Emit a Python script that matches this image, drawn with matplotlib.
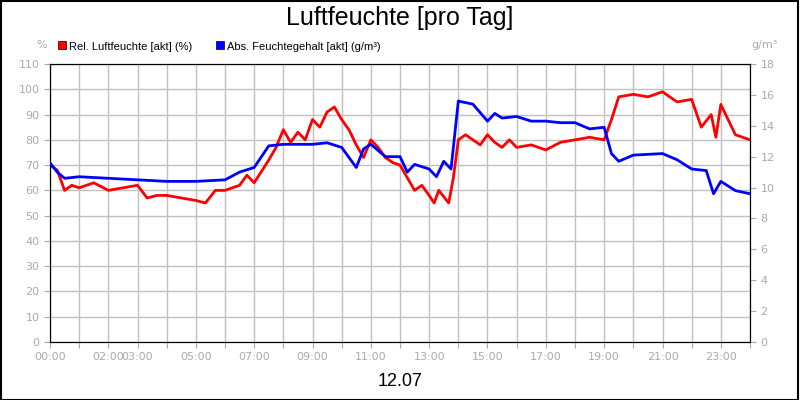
import matplotlib
matplotlib.use("Agg")
import matplotlib.pyplot as plt
from matplotlib.patches import Rectangle

rel_t = [0,0.25,0.5,0.75,1,1.5,2,2.5,3,3.33,3.67,4,4.5,5,5.33,5.67,6,6.5,6.75,7,7.5,7.75,8,8.25,8.5,8.75,9,9.25,9.5,9.75,10,10.25,10.5,10.75,11,11.25,11.5,11.75,12,12.25,12.5,12.75,13,13.17,13.33,13.67,13.83,14,14.25,14.5,14.75,15,15.25,15.5,15.75,16,16.5,17,17.5,18,18.5,19,19.25,19.5,20,20.5,21,21.5,22,22.33,22.67,22.83,23,23.25,23.5,23.75,24]
rel_v = [70,68,60,62,61,63,60,61,62,57,58,58,57,56,55,60,60,62,66,63,72,77,84,79,83,80,88,85,91,93,88,84,78,73,80,77,73,71,70,65,60,62,58,55,60,55,65,80,82,80,78,82,79,77,80,77,78,76,79,80,81,80,88,97,98,97,99,95,96,85,90,81,94,88,82,81,80]
abs_t = [0,0.25,0.5,1,2,3,4,5,6,6.5,7,7.5,8,9,9.5,10,10.5,10.75,11,11.5,12,12.25,12.5,13,13.25,13.5,13.75,14,14.5,15,15.25,15.5,16,16.5,17,17.5,18,18.5,19,19.25,19.5,20,21,21.5,22,22.5,22.75,23,23.5,23.75,24]
abs_v = [11.6,11.0,10.6,10.7,10.6,10.5,10.4,10.4,10.5,11.0,11.3,12.7,12.8,12.8,12.9,12.6,11.3,12.5,12.8,12.0,12.0,11.0,11.5,11.2,10.7,11.7,11.2,15.6,15.4,14.3,14.8,14.5,14.6,14.3,14.3,14.2,14.2,13.8,13.9,12.2,11.7,12.1,12.2,11.8,11.2,11.1,9.6,10.4,9.8,9.7,9.6]
xlabels = ["00:00","02:00","03:00","05:00","07:00","09:00","11:00","13:00","15:00","17:00","19:00","21:00","23:00"]
xlabel_pos = [0,2,3,5,7,9,11,13,15,17,19,21,23]

fig = plt.figure(figsize=(8,4), dpi=100)
fig.patches.append(Rectangle((0.001,0.001),0.997,0.997,transform=fig.transFigure,fill=False,ec='black',lw=1.5))
ax = fig.add_axes([50/800, 58/400, 700/800, 278/400])
ax2 = ax.twinx()
gc = '#aaaaaa'
ax.plot(rel_t, rel_v, color='#ff0000', lw=2, zorder=3)
ax2.plot(abs_t, abs_v, color='#0000ff', lw=2, zorder=3)
ax.set_xlim(0,24); ax.set_ylim(0,110); ax2.set_ylim(0,18)
ax.set_yticks(range(0,111,10)); ax2.set_yticks(range(0,19,2))
ax.set_xticks(range(0,25))
ax.set_xticklabels([xlabels[xlabel_pos.index(h)] if h in xlabel_pos else "" for h in range(25)])
ax.grid(True, color='#c0c0c0', lw=1)
for a in (ax, ax2):
    a.tick_params(colors=gc, labelsize=8, length=4)
    for s in a.spines.values(): s.set_color('black')
ax.set_axisbelow(True)
fig.text(0.5, 0.955, "Luftfeuchte [pro Tag]", ha='center', va='center', fontsize=18, family='Liberation Sans')
fig.text(0.5, 0.045, "12.07", ha='center', va='center', fontsize=13, family='Liberation Sans')
fig.text(42/800, 0.88, "%", ha='center', color=gc, fontsize=8)
fig.text(765/800, 0.88, "g/m³", ha='center', color=gc, fontsize=8)
fig.patches.append(Rectangle((58/800, 0.878), 8/800, 8/400, transform=fig.transFigure, fc='red', ec='black', lw=0.5))
fig.text(69/800, 0.883, "Rel. Luftfeuchte [akt] (%)", fontsize=8, va='center', family='Liberation Sans')
fig.patches.append(Rectangle((216/800, 0.878), 8/800, 8/400, transform=fig.transFigure, fc='blue', ec='black', lw=0.5))
fig.text(227/800, 0.883, "Abs. Feuchtegehalt [akt] (g/m³)", fontsize=8, va='center', family='Liberation Sans')
fig.savefig("out.png")
